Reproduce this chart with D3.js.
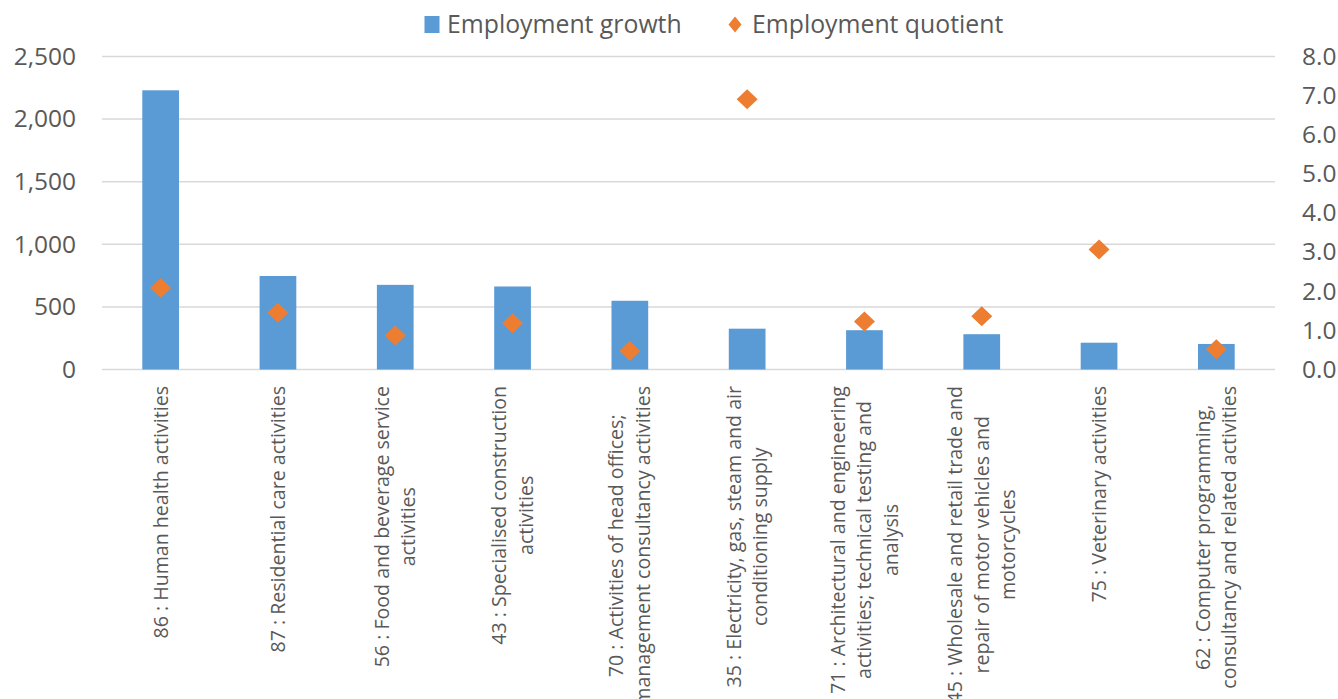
<!DOCTYPE html>
<html>
<head>
<meta charset="utf-8">
<script src="https://cdn.jsdelivr.net/npm/d3@7/dist/d3.min.js"></script>
<style>
  html, body { margin: 0; padding: 0; background: #fff; }
  svg { display: block; font-family: "Open Sans", "Noto Sans", sans-serif; }
</style>
</head>
<body>
<svg id="chart" width="1338" height="699"></svg>
<script>
// Industry codes with their wrapped axis labels
const categories = ["86", "87", "56", "43", "70", "35", "71", "45", "75", "62"];
const categoryLabels = [
  ["86 : Human health activities"],
  ["87 : Residential care activities"],
  ["56 : Food and beverage service", "activities"],
  ["43 : Specialised construction", "activities"],
  ["70 : Activities of head offices;", "management consultancy activities"],
  ["35 : Electricity, gas, steam and air", "conditioning supply"],
  ["71 : Architectural and engineering", "activities; technical testing and", "analysis"],
  ["45 : Wholesale and retail trade and", "repair of motor vehicles and", "motorcycles"],
  ["75 : Veterinary activities"],
  ["62 : Computer programming,", "consultancy and related activities"]
];
// Employment growth (left axis)
const employmentGrowth = [2230, 747, 676, 663, 549, 326, 314, 282, 214, 204];
// Employment quotient (right axis)
const employmentQuotient = [2.08, 1.45, 0.87, 1.18, 0.47, 6.91, 1.23, 1.36, 3.07, 0.52];
// Axis ticks
const leftTicks = [0, 500, 1000, 1500, 2000, 2500];
const rightTicks = [0, 1, 2, 3, 4, 5, 6, 7, 8];
const seriesNames = ["Employment growth", "Employment quotient"];

const barColor = "#5b9bd5";
const markerColor = "#ed7d31";
const textColor = "#595959";
const gridColor = "#d9d9d9";

const svg = d3.select("#chart");
const plot = { left: 102, right: 1275, top: 56.5, bottom: 369.5 };

const x = d3.scaleBand()
  .domain(categories)
  .range([plot.left, plot.right])
  .paddingInner(0.687)
  .paddingOuter(0.687 / 2);

const yLeft = d3.scaleLinear().domain([0, 2500]).range([plot.bottom, plot.top]);
const yRight = d3.scaleLinear().domain([0, 8]).range([plot.bottom, plot.top]);

// Horizontal gridlines (from the left axis)
svg.append("g")
  .selectAll("line")
  .data(leftTicks)
  .join("line")
  .attr("x1", plot.left)
  .attr("x2", plot.right)
  .attr("y1", d => yLeft(d))
  .attr("y2", d => yLeft(d))
  .attr("stroke", gridColor)
  .attr("stroke-width", 1.5);

// Left axis
const leftAxis = svg.append("g")
  .attr("transform", `translate(${plot.left - 26},0)`)
  .call(d3.axisLeft(yLeft).tickValues(leftTicks).tickSize(0).tickPadding(0).tickFormat(d3.format(",")));
leftAxis.select(".domain").remove();
leftAxis.selectAll("text")
  .attr("fill", textColor)
  .attr("font-size", 24.5)
  .attr("font-family", "Open Sans");

// Right axis
const rightAxis = svg.append("g")
  .attr("transform", `translate(${plot.right + 27},0)`)
  .call(d3.axisRight(yRight).tickValues(rightTicks).tickSize(0).tickPadding(0).tickFormat(d3.format(".1f")));
rightAxis.select(".domain").remove();
rightAxis.selectAll("text")
  .attr("fill", textColor)
  .attr("font-size", 24.5)
  .attr("font-family", "Open Sans");

// Bars
svg.append("g")
  .selectAll("rect")
  .data(employmentGrowth)
  .join("rect")
  .attr("x", (d, i) => x(categories[i]))
  .attr("width", x.bandwidth())
  .attr("y", d => yLeft(d))
  .attr("height", d => yLeft(0) - yLeft(d))
  .attr("fill", barColor);

// Diamond markers
const diamond = (w, h) => `M0,${-h / 2}L${w / 2},0L0,${h / 2}L${-w / 2},0Z`;
svg.append("g")
  .selectAll("path")
  .data(employmentQuotient)
  .join("path")
  .attr("transform", (d, i) => `translate(${x(categories[i]) + x.bandwidth() / 2},${yRight(d)})`)
  .attr("d", diamond(21, 20))
  .attr("fill", markerColor);

// Rotated category labels, lines centred on the longest one
const labelTop = 386;
const lineStep = 26.5;
const labelGroups = svg.append("g")
  .selectAll("g")
  .data(categoryLabels)
  .join("g");

labelGroups.each(function (lines, i) {
  const g = d3.select(this);
  const cx = x(categories[i]) + x.bandwidth() / 2;
  const texts = g.selectAll("text")
    .data(lines)
    .join("text")
    .attr("font-size", 19.6)
    .attr("fill", textColor)
    .attr("text-anchor", "middle")
    .attr("dy", "0.35em")
    .text(d => d);
  let maxLen = 0;
  texts.each(function () { maxLen = Math.max(maxLen, this.getComputedTextLength()); });
  const cy = labelTop + maxLen / 2;
  texts.attr("transform", (d, j) =>
    `translate(${cx + (j - (lines.length - 1) / 2) * lineStep},${cy}) rotate(-90)`);
});

// Legend
const legend = svg.append("g");
legend.append("rect")
  .attr("x", 424.5).attr("y", 16).attr("width", 15).attr("height", 17)
  .attr("fill", barColor);
legend.append("text")
  .attr("x", 447).attr("y", 24.5).attr("dy", "0.35em")
  .attr("font-size", 24.8).attr("fill", textColor)
  .text(seriesNames[0]);
legend.append("path")
  .attr("transform", "translate(735,24.5)")
  .attr("d", diamond(13, 16))
  .attr("fill", markerColor);
legend.append("text")
  .attr("x", 752).attr("y", 24.5).attr("dy", "0.35em")
  .attr("font-size", 24.8).attr("fill", textColor)
  .text(seriesNames[1]);
</script>
</body>
</html>
